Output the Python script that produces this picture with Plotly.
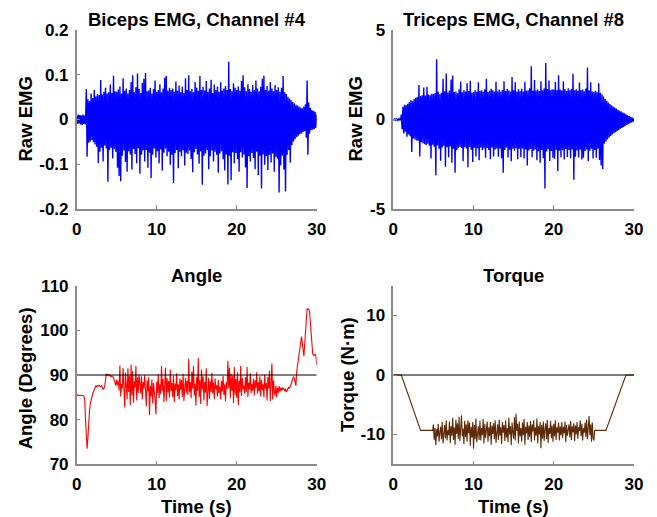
import numpy as np
import plotly.graph_objects as go

# ---------------- data (0.1 s sampling, 0..30 s) ----------------
biceps_emg = [
    0.008, -0.010, 0.011, -0.009, 0.010, -0.011, 0.009, -0.012, 0.011, -0.010,
    0.009, -0.011, 0.068, -0.083, 0.045, -0.052, 0.041, -0.049, 0.058, -0.046,
    0.048, -0.051, 0.066, -0.056, 0.052, -0.061, 0.057, -0.097, 0.055, -0.072,
    0.088, -0.063, 0.056, -0.094, 0.062, -0.058, 0.071, -0.065, 0.058, -0.139,
    0.061, -0.068, 0.078, -0.063, 0.059, -0.087, 0.098, -0.066, 0.063, -0.072,
    0.062, -0.108, 0.067, -0.126, 0.074, -0.138, 0.058, -0.081, 0.092, -0.069,
    0.064, -0.095, 0.069, -0.117, 0.058, -0.071, 0.066, -0.078, 0.084, -0.112,
    0.099, -0.066, 0.061, -0.077, 0.072, -0.098, 0.103, -0.064, 0.068, -0.121,
    0.059, -0.079, 0.082, -0.069, 0.091, -0.094, 0.104, -0.068, 0.063, -0.108,
    0.065, -0.074, 0.071, -0.131, 0.058, -0.079, 0.068, -0.065, 0.087, -0.085,
    0.062, -0.071, 0.066, -0.098, 0.079, -0.067, 0.061, -0.114, 0.069, -0.074,
    0.093, -0.065, 0.098, -0.082, 0.064, -0.072, 0.071, -0.101, 0.066, -0.079,
    0.069, -0.142, 0.062, -0.075, 0.085, -0.068, 0.064, -0.109, 0.076, -0.072,
    0.061, -0.082, 0.073, -0.069, 0.059, -0.103, 0.092, -0.074, 0.066, -0.077,
    0.099, -0.069, 0.063, -0.088, 0.068, -0.118, 0.061, -0.073, 0.084, -0.066,
    0.071, -0.078, 0.064, -0.099, 0.097, -0.071, 0.066, -0.146, 0.073, -0.081,
    0.065, -0.076, 0.086, -0.068, 0.062, -0.111, 0.069, -0.082, 0.089, -0.069,
    0.059, -0.094, 0.078, -0.072, 0.066, -0.079, 0.074, -0.119, 0.062, -0.076,
    0.083, -0.071, 0.065, -0.089, 0.069, -0.114, 0.075, -0.078, 0.066, -0.145,
    0.129, -0.081, 0.068, -0.136, 0.063, -0.073, 0.081, -0.098, 0.071, -0.075,
    0.066, -0.088, 0.074, -0.117, 0.064, -0.073, 0.086, -0.085, 0.099, -0.078,
    0.072, -0.107, 0.063, -0.153, 0.079, -0.082, 0.068, -0.094, 0.062, -0.075,
    0.077, -0.086, 0.066, -0.111, 0.087, -0.072, 0.069, -0.124, 0.063, -0.081,
    0.073, -0.154, 0.091, -0.078, 0.098, -0.101, 0.066, -0.082, 0.075, -0.113,
    0.064, -0.079, 0.083, -0.096, 0.069, -0.076, 0.063, -0.117, 0.077, -0.083,
    0.066, -0.087, 0.072, -0.163, 0.062, -0.102, 0.071, -0.081, 0.097, -0.112,
    0.061, -0.161, 0.057, -0.079, 0.051, -0.068, 0.047, -0.096, 0.043, -0.057,
    0.039, -0.049, 0.036, -0.044, 0.033, -0.039, 0.031, -0.036, 0.029, -0.033,
    0.027, -0.031, 0.025, -0.028, 0.029, -0.026, 0.034, -0.041, 0.087, -0.079,
    0.038, -0.032, 0.026, -0.024, 0.021, -0.023, 0.019, -0.021, 0.017, -0.019,
    0.011,
]

triceps_emg = [
    0.03, -0.03, 0.04, -0.03, 0.03, -0.04, 0.03, -0.03, 0.04, -0.04,
    0.28, -0.55, 0.71, -0.78, 0.82, -0.69, 0.79, -0.96, 0.88, -0.84,
    0.98, -0.93, 1.08, -1.81, 1.02, -1.06, 1.15, -1.11, 1.21, -1.17,
    1.26, -1.19, 1.93, -2.06, 1.31, -1.27, 1.36, -1.32, 1.79, -1.38,
    1.34, -1.42, 1.81, -1.36, 1.39, -1.47, 1.35, -2.18, 1.44, -1.41,
    1.42, -1.52, 1.48, -3.12, 3.36, -1.45, 1.55, -1.63, 1.41, -2.31,
    1.49, -1.56, 2.28, -1.46, 1.58, -2.64, 2.57, -1.55, 1.51, -2.11,
    1.62, -1.51, 2.23, -2.41, 2.46, -1.64, 1.54, -2.98, 1.57, -1.72,
    1.46, -1.61, 1.67, -1.53, 2.12, -1.59, 1.52, -2.33, 1.63, -1.55,
    1.56, -1.62, 2.02, -2.67, 1.59, -1.54, 2.17, -1.69, 1.49, -2.38,
    1.53, -1.58, 1.64, -2.06, 1.55, -1.61, 2.08, -2.27, 1.59, -1.56,
    1.63, -1.72, 1.55, -1.62, 1.69, -2.13, 2.27, -1.59, 1.54, -1.71,
    1.61, -2.21, 1.72, -1.57, 1.63, -2.06, 1.56, -1.68, 2.11, -1.62,
    1.57, -2.08, 1.68, -1.63, 1.55, -2.16, 1.65, -2.97, 2.14, -1.71,
    1.59, -1.56, 1.71, -2.12, 1.62, -1.69, 1.57, -2.33, 2.38, -1.64,
    1.63, -1.74, 2.08, -1.61, 1.56, -2.22, 1.69, -1.63, 1.58, -2.09,
    1.72, -1.62, 1.57, -2.18, 2.11, -1.68, 1.61, -2.57, 1.64, -1.73,
    1.75, -1.65, 2.98, -2.11, 1.61, -1.74, 2.21, -1.67, 1.62, -2.28,
    1.68, -1.77, 1.59, -2.42, 2.13, -1.71, 1.64, -2.16, 1.73, -3.86,
    3.16, -1.79, 1.71, -1.66, 2.18, -2.32, 1.63, -1.76, 1.69, -2.13,
    1.67, -2.19, 2.09, -1.69, 1.64, -2.88, 2.47, -1.74, 1.68, -2.11,
    1.62, -1.72, 2.13, -2.24, 1.69, -1.65, 1.59, -2.09, 1.74, -1.71,
    1.64, -2.16, 1.72, -1.67, 2.56, -3.37, 1.63, -2.08, 1.69, -1.73,
    1.61, -2.12, 2.06, -1.69, 1.64, -2.23, 1.67, -2.14, 1.58, -1.76,
    1.73, -1.67, 2.91, -2.32, 1.62, -1.74, 2.08, -1.64, 1.57, -2.18,
    1.55, -1.71, 1.61, -2.13, 1.52, -1.64, 2.02, -2.26, 1.49, -2.57,
    1.41, -2.76, 1.28, -1.36, 1.15, -1.24, 1.05, -1.12, 0.95, -1.01,
    0.87, -0.92, 0.79, -0.83, 0.73, -0.77, 0.67, -0.71, 0.61, -0.65,
    0.55, -0.58, 0.49, -0.52, 0.44, -0.47, 0.39, -0.41, 0.34, -0.36,
    0.29, -0.31, 0.24, -0.26, 0.19, -0.21, 0.15, -0.16, 0.11, -0.12,
    0.05,
]

angle_deg = [
    85.5, 85.5, 85.4, 85.5, 85.5, 85.4, 85.5, 85.5, 85.4, 85.3,
    84.5, 80.0, 75.0, 73.5, 76.0, 80.5, 82.0, 83.6, 84.6, 85.2,
    85.8, 86.3, 86.9, 87.4, 87.6, 87.4, 87.6, 87.5, 87.7, 87.5,
    87.4, 87.6, 87.0, 86.8, 87.0, 87.4, 88.9, 90.3, 89.9, 90.1,
    90.0, 89.8, 89.9, 89.6, 89.8, 89.7, 89.4, 88.9, 88.3, 87.6,
    89.0, 87.8, 88.6, 86.5, 92.1, 85.2, 88.0, 87.0, 91.5, 84.8,
    82.7, 90.5, 88.0, 84.6, 91.5, 86.2, 89.8, 83.3, 92.3, 85.4,
    90.9, 83.8, 88.6, 87.2, 92.0, 84.3, 89.5, 86.0, 90.1, 87.8,
    85.9, 89.7, 84.5, 88.4, 87.0, 90.0, 85.2, 83.0, 88.8, 86.3,
    89.5, 81.0, 87.6, 85.2, 89.0, 83.6, 88.2, 86.8, 84.4, 81.2,
    88.5, 86.0, 90.2, 84.8, 87.9, 85.7, 92.0, 86.5, 89.1, 83.9,
    88.0, 91.7, 84.2, 89.3, 86.1, 88.7, 84.9, 91.2, 86.4, 88.2,
    85.0, 89.8, 83.9, 88.1, 86.6, 90.4, 85.3, 87.9, 84.5, 89.2,
    86.7, 88.9, 85.1, 90.3, 84.2, 87.5, 89.4, 86.0, 88.7, 85.6,
    93.6, 86.2, 88.4, 84.8, 90.8, 86.9, 92.0, 85.4, 88.1, 83.1,
    89.6, 86.4, 93.8, 85.0, 88.9, 83.5, 91.2, 86.8, 89.7, 84.3,
    88.5, 86.1, 91.5, 83.0, 87.9, 89.4, 84.7, 88.6, 86.2, 90.5,
    85.9, 88.3, 84.6, 89.2, 86.8, 87.7, 85.2, 88.9, 86.0, 87.4,
    84.6, 88.7, 86.3, 89.8, 85.5, 87.9, 84.1, 88.4, 86.9, 93.2,
    87.1, 91.6, 84.8, 90.3, 86.4, 89.9, 83.7, 91.8, 85.6, 89.1,
    84.9, 90.6, 83.2, 88.7, 86.1, 92.0, 85.3, 89.4, 86.8, 87.6,
    85.8, 89.5, 86.2, 91.8, 85.1, 88.3, 86.7, 90.4, 85.9, 88.0,
    86.5, 89.2, 85.4, 88.8, 87.1, 90.6, 85.8, 88.4, 86.3, 89.7,
    85.2, 88.9, 86.6, 87.9, 85.0, 90.1, 86.9, 88.2, 84.3, 89.6,
    87.0, 91.0, 84.2, 88.5, 92.6, 84.5, 88.8, 86.1, 85.4, 87.6,
    85.0, 87.2, 86.0, 87.5, 86.3, 87.1, 86.5, 87.2, 86.8, 87.0,
    86.4, 86.9, 86.2, 86.5, 86.8, 87.3, 87.0, 87.6, 88.2, 88.8,
    89.2, 89.6, 89.3, 88.4, 87.6, 90.8, 92.3, 93.2, 95.0, 96.8,
    98.0, 98.6, 97.2, 94.8, 94.2, 96.8, 100.5, 103.8, 104.9, 104.7,
    104.8, 104.3, 102.0, 99.0, 96.0, 94.8, 94.4, 94.5, 94.6, 94.2,
    92.3,
]

# torque: ramp knots + noisy hold (0.1 s sampling from 5.0 s to 25.0 s)
torque_ramp_in_t = [0.0, 1.0, 3.4, 4.9]
torque_ramp_in_v = [0.0, 0.0, -9.3, -9.3]
torque_hold_start = 5.0
torque_hold = [
    -8.3, -10.9, -8.9, -11.8, -9.1, -10.3, -8.2, -11.2, -9.6, -8.7,
    -10.8, -7.9, -11.5, -9.0, -8.4, -10.6, -7.6, -11.0, -9.3, -10.1,
    -7.8, -11.4, -8.6, -10.2, -7.2, -10.9, -8.8, -11.7, -7.5, -9.9,
    -8.1, -10.7, -7.0, -11.1, -8.5, -6.8, -10.3, -9.0, -11.6, -7.7,
    -10.4, -8.3, -11.2, -7.6, -9.8, -8.0, -11.9, -8.7, -10.5, -7.9,
    -12.4, -8.4, -10.8, -7.3, -11.3, -9.2, -8.6, -10.9, -7.7, -11.0,
    -8.9, -10.1, -7.4, -11.5, -8.2, -10.6, -9.3, -7.8, -11.2, -8.8,
    -10.3, -7.9, -11.7, -8.5, -9.9, -8.1, -10.8, -7.6, -11.4, -9.0,
    -8.3, -10.9, -7.5, -10.2, -8.8, -11.6, -7.9, -9.7, -8.4, -11.1,
    -7.6, -10.5, -8.9, -11.3, -7.2, -10.0, -8.6, -11.8, -8.0, -9.6,
    -10.7, -7.1, -11.0, -6.5, -9.4, -8.2, -11.5, -7.8, -10.3, -8.9,
    -11.2, -8.0, -10.1, -7.4, -11.7, -8.7, -9.8, -7.9, -10.9, -8.5,
    -10.4, -7.7, -11.3, -8.3, -9.5, -7.6, -11.0, -8.8, -10.2, -7.3,
    -11.5, -8.6, -10.0, -7.9, -12.3, -8.4, -10.7, -7.8, -11.1, -9.2,
    -8.1, -10.8, -7.5, -11.4, -8.9, -9.9, -7.7, -10.6, -8.5, -11.2,
    -8.2, -10.3, -7.6, -10.9, -8.8, -9.7, -8.0, -11.0, -8.6, -10.1,
    -7.9, -10.6, -8.7, -9.8, -7.8, -11.3, -8.4, -10.2, -9.0, -8.3,
    -10.5, -7.7, -10.9, -8.6, -9.6, -8.1, -11.1, -8.5, -10.0, -7.9,
    -10.7, -8.8, -9.4, -7.6, -10.3, -8.2, -11.0, -8.9, -9.7, -8.0,
    -10.4, -7.5, -10.8, -8.6, -6.9, -10.1, -8.3, -11.2, -8.0, -10.6,
    -11.0,
]
torque_ramp_out_t = [25.1, 26.5, 29.0, 30.0]
torque_ramp_out_v = [-9.3, -9.3, 0.0, 0.0]

sample_step = 0.1
panel_titles = ["Biceps EMG, Channel #4", "Triceps EMG, Channel #8", "Angle", "Torque"]
y_titles = ["Raw EMG", "Raw EMG", "Angle (Degrees)", "Torque (N\u00b7m)"]
x_title = "Time (s)"
x_ticks = [0, 10, 20, 30]
x_tick_labels = ["0", "10", "20", "30"]
y_ticks = [[-0.2, -0.1, 0, 0.1, 0.2], [-5, 0, 5], [70, 80, 90, 100, 110], [-10, 0, 10]]
y_tick_labels = [["-0.2", "-0.1", "0", "0.1", "0.2"], ["-5", "0", "5"],
                 ["70", "80", "90", "100", "110"], ["-10", "0", "10"]]
y_ranges = [[-0.2, 0.2], [-5, 5], [70, 110], [-15, 15]]
ref_levels = [0, 0, 90, 0]

# ---------------- build ----------------
t_emg = np.round(np.arange(len(biceps_emg)) * sample_step, 3)
t_ang = np.round(np.arange(len(angle_deg)) * sample_step, 3)
t_hold = np.round(torque_hold_start + np.arange(len(torque_hold)) * sample_step, 3)
torque_t = list(torque_ramp_in_t) + list(t_hold) + list(torque_ramp_out_t)
torque_v = list(torque_ramp_in_v) + list(torque_hold) + list(torque_ramp_out_v)

W, H = 657, 517
def px(x): return x / W
def py(y): return 1 - y / H

xdom = [[px(76.7), px(316.7)], [px(393.3), px(634.0)]]
ydom_top = [py(209.0), py(30.0)]
ydom_bot = [py(464.3), py(285.7)]

fig = go.Figure()
axes = [("x", "y", xdom[0], ydom_top), ("x2", "y2", xdom[1], ydom_top),
        ("x3", "y3", xdom[0], ydom_bot), ("x4", "y4", xdom[1], ydom_bot)]

series = [
    (t_emg, biceps_emg, "#0000FF", 1.4),
    (t_emg, triceps_emg, "#0000FF", 1.4),
    (t_ang, angle_deg, "#FF0000", 1.1),
    (torque_t, torque_v, "#5E2A06", 1.1),
]

for i, ((xa, ya, xd, yd), (tx, vy, col, lw)) in enumerate(zip(axes, series)):
    fig.add_trace(go.Scatter(x=tx, y=vy, mode="lines", line=dict(color=col, width=lw),
                             xaxis=xa, yaxis=ya, showlegend=False, hoverinfo="skip"))
    fig.add_trace(go.Scatter(x=[x_ticks[0], x_ticks[-1]], y=[ref_levels[i], ref_levels[i]],
                             mode="lines", line=dict(color="black", width=1),
                             xaxis=xa, yaxis=ya, showlegend=False, hoverinfo="skip"))

font_family = "Liberation Sans, Arial, sans-serif"
axis_common = dict(showline=True, linecolor="#8a8a8a", linewidth=1.5, ticks="inside",
                   ticklen=4, tickcolor="#8a8a8a", tickwidth=1, showgrid=False,
                   zeroline=False, mirror=False, automargin=False,
                   tickfont=dict(family=font_family, size=17, color="black", weight="bold"))

layout = dict(width=W, height=H, margin=dict(l=0, r=0, t=0, b=0, autoexpand=False),
              paper_bgcolor="white", plot_bgcolor="white", showlegend=False)
for i, (xa, ya, xd, yd) in enumerate(axes):
    xk = "xaxis" if xa == "x" else "xaxis" + xa[1:]
    yk = "yaxis" if ya == "y" else "yaxis" + ya[1:]
    layout[xk] = dict(domain=xd, range=[0, 30], tickvals=x_ticks, ticktext=x_tick_labels,
                      anchor=ya, ticklabelstandoff=4, **axis_common)
    layout[yk] = dict(domain=yd, range=y_ranges[i], tickvals=y_ticks[i],
                      ticktext=y_tick_labels[i], anchor=xa, ticklabelstandoff=3, **axis_common)
fig.update_layout(**layout)

ann_font = dict(family=font_family, size=18.5, color="black", weight="bold")
anns = []
title_pos = [(196.7, 19), (513.7, 19), (196.7, 275), (513.7, 275)]
for (x, y), t in zip(title_pos, panel_titles):
    anns.append(dict(text=t, x=px(x), y=py(y), xref="paper", yref="paper",
                     xanchor="center", yanchor="middle", showarrow=False, font=ann_font))
ytitle_pos = [(25, 119.5), (355, 119.5), (25, 378.3), (347, 375)]
for (x, y), t in zip(ytitle_pos, y_titles):
    anns.append(dict(text=t, x=px(x), y=py(y), xref="paper", yref="paper", textangle=-90,
                     xanchor="center", yanchor="middle", showarrow=False, font=ann_font))
for x in (196.7, 513.7):
    anns.append(dict(text=x_title, x=px(x), y=py(506.7), xref="paper", yref="paper",
                     xanchor="center", yanchor="middle", showarrow=False, font=ann_font))
fig.update_layout(annotations=anns)

fig.write_html("out.html", config={"displayModeBar": False},
               post_script="document.body.style.margin='0px';document.body.style.padding='0px';")
